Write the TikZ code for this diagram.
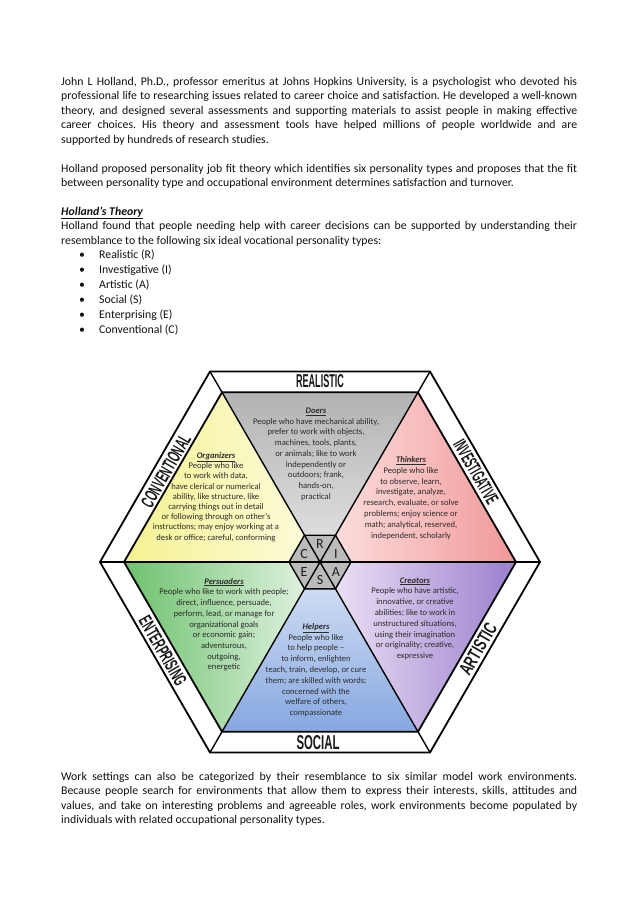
\documentclass[tikz,border=0pt]{standalone}
\usepackage{fontspec}
\usepackage{graphicx}
\setmainfont{Carlito}
\newfontfamily\bandfont{Liberation Sans}
\frenchspacing
\definecolor{txt}{HTML}{111111}
\definecolor{tritxt}{HTML}{2C2C2C}
\definecolor{hexgray}{HTML}{BBBBBB}
\newcommand\jline[1]{\hbox to 516pt{#1}}
\newcommand\lline[1]{\hbox{#1}}
\newcommand\ttl[1]{\underline{\textbf{\textit{#1}}}}
\newcommand\triblock[2]{\parbox[t]{#1}{\centering\fontsize{8.6}{10.7}\selectfont #2}}
\tikzset{
  pagetext/.style={anchor=base west, inner sep=0, text=txt, font=\fontsize{11.8}{14.4}\selectfont},
  tritext/.style={anchor=base, inner sep=0, text=tritxt},
  bandlabel/.style={inner sep=0, text=black!90},
  hexline/.style={draw=black, line width=1.8pt, line join=miter},
  spoke/.style={draw=black, line width=1.4pt},
  letter/.style={inner sep=0, text=black!88, font=\fontsize{14}{14}\selectfont}
}
\begin{document}
\begin{tikzpicture}[x=1pt, y=-1pt]
\useasboundingbox (0,0) rectangle (638,903);
\fill[white] (0,0) rectangle (638,903);

% ---------- page text ----------
\node[pagetext] (p1) at (61,85.5) {\vtop{\baselineskip=14.4pt
\jline{John L Holland, Ph.D., professor emeritus at Johns Hopkins University, is a psychologist who devoted his}
\jline{professional life to researching issues related to career choice and satisfaction. He developed a well-known}
\jline{theory, and designed several assessments and supporting materials to assist people in making effective}
\jline{career choices. His theory and assessment tools have helped millions of people worldwide and are}
\lline{supported by hundreds of research studies.}}};

\node[pagetext] (p2) at (61,172) {\vtop{\baselineskip=14.4pt
\jline{Holland proposed personality job fit theory which identifies six personality types and proposes that the fit}
\lline{between personality type and occupational environment determines satisfaction and turnover.}}};

\node[pagetext] (p3) at (61,215.3) {\vtop{\baselineskip=14.4pt
\lline{\ttl{Holland’s Theory}}
\jline{Holland found that people needing help with career decisions can be supported by understanding their}
\lline{resemblance to the following six ideal vocational personality types:}}};

\foreach \t [count=\i from 0] in {Realistic (R), Investigative (I), Artistic (A), Social (S), Enterprising (E), Conventional (C)}{
  \node[pagetext, anchor=base] (bd\i) at (82,258.5+15*\i) {•};
  \node[pagetext] (bt\i) at (99,258.5+15*\i) {\t};
}

\node[pagetext] (p4) at (61,780) {\vtop{\baselineskip=14.5pt
\jline{Work settings can also be categorized by their resemblance to six similar model work environments.}
\jline{Because people search for environments that allow them to express their interests, skills, attitudes and}
\jline{values, and take on interesting problems and agreeable roles, work environments become populated by}
\lline{individuals with related occupational personality types.}}};

% ---------- hexagon geometry ----------
\coordinate (O) at (320,562);
\coordinate (o0) at (540,562);   \coordinate (o1) at (430,371.5);
\coordinate (o2) at (210,371.5); \coordinate (o3) at (100,562);
\coordinate (o4) at (210,752.5); \coordinate (o5) at (430,752.5);
\coordinate (i0) at (516,562);   \coordinate (i1) at (418,392.3);
\coordinate (i2) at (222,392.3); \coordinate (i3) at (124,562);
\coordinate (i4) at (222,731.7); \coordinate (i5) at (418,731.7);
\coordinate (s0) at (351,562);   \coordinate (s1) at (335.5,535.2);
\coordinate (s2) at (304.5,535.2); \coordinate (s3) at (289,562);
\coordinate (s4) at (304.5,588.8); \coordinate (s5) at (335.5,588.8);

% coloured triangles
\fill[top color=black!30, bottom color=black!10] (i2) -- (i1) -- (O) -- cycle;
\fill[left color={rgb,255:red,253;green,226;blue,226}, right color={rgb,255:red,241;green,152;blue,152}] (i1) -- (i0) -- (O) -- cycle;
\fill[left color={rgb,255:red,240;green,232;blue,247}, right color={rgb,255:red,155;green,127;blue,206}] (i0) -- (i5) -- (O) -- cycle;
\fill[top color={rgb,255:red,219;green,229;blue,247}, bottom color={rgb,255:red,134;green,167;blue,224}] (i5) -- (i4) -- (O) -- cycle;
\fill[left color={rgb,255:red,108;green,193;blue,108}, right color={rgb,255:red,232;green,245;blue,232}] (i4) -- (i3) -- (O) -- cycle;
\fill[left color={rgb,255:red,245;green,242;blue,145}, right color={rgb,255:red,252;green,252;blue,222}] (i3) -- (i2) -- (O) -- cycle;

% central small hexagon
\fill[hexgray] (s0) -- (s1) -- (s2) -- (s3) -- (s4) -- (s5) -- cycle;

% lines
\draw[spoke] (o0) -- (o3);
\draw[spoke] (o1) -- (o4);
\draw[spoke] (o2) -- (o5);
\draw[spoke] (s0) -- (s1) -- (s2) -- (s3) -- (s4) -- (s5) -- cycle;
\draw[hexline] (i0) -- (i1) -- (i2) -- (i3) -- (i4) -- (i5) -- cycle;
\draw[hexline] (o0) -- (o1) -- (o2) -- (o3) -- (o4) -- (o5) -- cycle;

% letters
\node[letter] (lR) at (320,544.5) {R};
\node[letter] (lI) at (336,553.5) {I};
\node[letter] (lA) at (336,571.5) {A};
\node[letter] (lS) at (320,580) {S};
\node[letter] (lE) at (304,571.5) {E};
\node[letter] (lC) at (304,553.5) {C};

% band labels
\node[bandlabel] (realistic) at (320,381) {\resizebox{48pt}{13pt}{\bandfont\bfseries REALISTIC}};
\node[bandlabel] (social) at (318,742.5) {\resizebox{43pt}{14pt}{\bandfont\bfseries SOCIAL}};
\node[bandlabel, rotate=60] (conventional) at (166,471) {\resizebox{81pt}{13pt}{\bandfont\bfseries CONVENTIONAL}};
\node[bandlabel, rotate=-60] (investigative) at (476,472) {\resizebox{71pt}{13pt}{\bandfont\bfseries INVESTIGATIVE}};
\node[bandlabel, rotate=-60] (enterprising) at (163,651) {\resizebox{77pt}{13pt}{\bandfont\bfseries ENTERPRISING}};
\node[bandlabel, rotate=60] (artistic) at (478,649) {\resizebox{57pt}{13pt}{\bandfont\bfseries ARTISTIC}};

% triangle texts
\node[tritext] (doers) at (316,413.5) {\triblock{170pt}{\ttl{Doers}\\
People who have mechanical ability,\\
prefer to work with objects,\\
machines, tools, plants,\\
or animals; like to work\\
independently or\\
outdoors; frank,\\
hands-on,\\
practical}};

\node[tritext] (organizers) at (216,458.5) {\triblock{170pt}{\fontsize{8.6}{10.2}\selectfont\ttl{Organizers}\\
People who like\\
to work with data,\\
have clerical or numerical\\
ability, like structure, like\\
carrying things out in detail\\
or following through on other’s\\
instructions; may enjoy working at a\\
desk or office; careful, conforming}};

\node[tritext] (thinkers) at (411,462.5) {\triblock{170pt}{\fontsize{8.6}{10.8}\selectfont\ttl{Thinkers}\\
People who like\\
to observe, learn,\\
investigate, analyze,\\
research, evaluate, or solve\\
problems; enjoy science or\\
math; analytical, reserved,\\
independent, scholarly}};

\node[tritext] (persuaders) at (224,584.2) {\triblock{170pt}{\ttl{Persuaders}\\
People who like to work with people;\\
direct, influence, persuade,\\
perform, lead, or manage for\\
organizational goals\\
or economic gain;\\
adventurous,\\
outgoing,\\
energetic}};

\node[tritext] (helpers) at (316,629.2) {\triblock{170pt}{\fontsize{8.6}{10.8}\selectfont\ttl{Helpers}\\
People who like\\
to help people –\\
to inform, enlighten\\
teach, train, develop, or cure\\
them; are skilled with words;\\
concerned with the\\
welfare of others,\\
compassionate}};

\node[tritext] (creators) at (415,583.2) {\triblock{170pt}{\fontsize{8.6}{10.76}\selectfont\ttl{Creators}\\
People who have artistic,\\
innovative, or creative\\
abilities; like to work in\\
unstructured situations,\\
using their imagination\\
or originality; creative,\\
expressive}};
\end{tikzpicture}
\end{document}
